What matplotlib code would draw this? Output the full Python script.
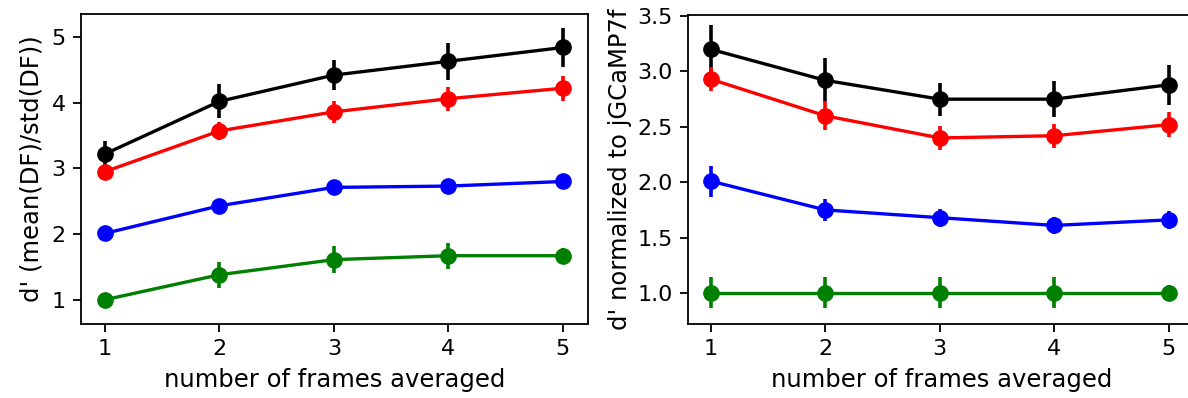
import numpy as np
import matplotlib.pyplot as plt

frames = [1, 2, 3, 4, 5]
colors = ['black', 'red', 'blue', 'green']

# left panel: raw d'
raw_black = [3.22, 4.02, 4.42, 4.63, 4.84]
raw_red = [2.95, 3.57, 3.86, 4.06, 4.22]
raw_blue = [2.01, 2.43, 2.71, 2.73, 2.80]
raw_green = [1.00, 1.38, 1.61, 1.67, 1.67]
raw_black_err = [0.20, 0.26, 0.23, 0.28, 0.30]
raw_red_err = [0.10, 0.14, 0.17, 0.18, 0.19]
raw_blue_err = [0.06, 0.07, 0.08, 0.07, 0.06]
raw_green_err = [0.05, 0.20, 0.21, 0.20, 0.11]

# right panel: normalized to jGCaMP7f
norm_black = [3.20, 2.92, 2.75, 2.75, 2.88]
norm_red = [2.93, 2.60, 2.40, 2.42, 2.52]
norm_blue = [2.01, 1.75, 1.68, 1.61, 1.66]
norm_green = [1.00, 1.00, 1.00, 1.00, 1.00]
norm_black_err = [0.22, 0.20, 0.15, 0.16, 0.18]
norm_red_err = [0.11, 0.13, 0.11, 0.11, 0.11]
norm_blue_err = [0.14, 0.10, 0.08, 0.08, 0.08]
norm_green_err = [0.14, 0.14, 0.14, 0.14, 0.07]

fig = plt.figure(figsize=(11.88, 3.98), dpi=100)
ax1 = fig.add_axes([81 / 1188, 74 / 398, 507 / 1188, 310 / 398])
ax2 = fig.add_axes([688 / 1188, 74 / 398, 507 / 1188, 309 / 398])

raw = [(raw_black, raw_black_err), (raw_red, raw_red_err),
       (raw_blue, raw_blue_err), (raw_green, raw_green_err)]
norm = [(norm_black, norm_black_err), (norm_red, norm_red_err),
        (norm_blue, norm_blue_err), (norm_green, norm_green_err)]

for ax, series in [(ax1, raw), (ax2, norm)]:
    for (vals, errs), c in zip(series, colors):
        ax.errorbar(frames, vals, yerr=errs, color=c, marker='o',
                    markersize=11, linewidth=2.4, elinewidth=2.6, capsize=0)
    ax.set_xticks(frames)
    ax.set_xlabel('number of frames averaged', fontsize=17.5, labelpad=6)
    ax.tick_params(labelsize=16, length=6, width=1.3, pad=5)
    for s in ax.spines.values():
        s.set_linewidth(1.3)

ax1.set_xlim(0.79, 5.22)
ax1.set_ylim(0.63, 5.35)
ax1.set_yticks([1, 2, 3, 4, 5])
ax1.set_ylabel("d' (mean(DF)/std(DF))", fontsize=17.5, labelpad=6)

ax2.set_xlim(0.80, 5.23)
ax2.set_ylim(0.72, 3.51)
ax2.set_yticks([1.0, 1.5, 2.0, 2.5, 3.0, 3.5])
ax2.set_ylabel("d' normalized to jGCaMP7f", fontsize=17.5, labelpad=4)

fig.savefig('out.png', dpi=100)
